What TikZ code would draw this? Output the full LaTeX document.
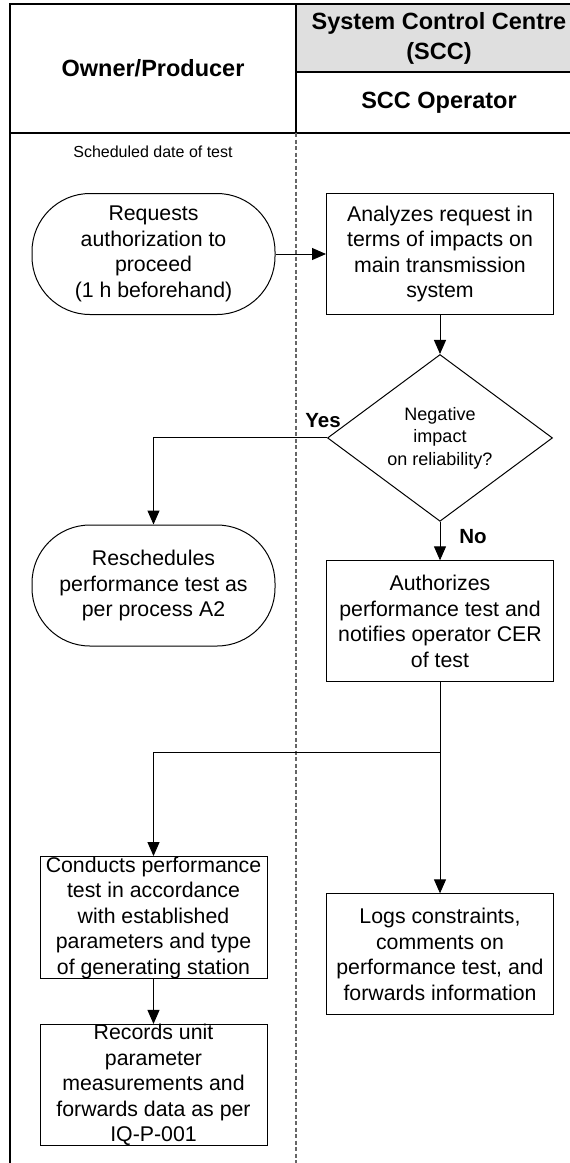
\documentclass[tikz,border=0pt]{standalone}
\usepackage{fontspec}
\setmainfont{Liberation Sans}
\usepackage{xcolor}
\usetikzlibrary{positioning, shapes.geometric, arrows.meta}

\begin{document}
\begin{tikzpicture}
						[
						   x = 1pt, y = 1pt,
						   box/.style = {draw, rectangle, line width = 1pt, minimum width = 227pt, minimum height = 121pt, inner xsep = 2pt, inner ysep = 0pt, align = center, font = \fontsize{21.3}{25.5}\selectfont},
						   terminal/.style = {box, minimum width = 243pt, rounded corners = 58pt},
						   decision/.style = {draw, diamond, line width = 1pt, minimum width = 225pt, minimum height = 134pt, inner sep = 0pt, align = center, font = \fontsize{18}{22.5}\selectfont},
						   head/.style = {font = \fontsize{23.5}{30}\selectfont\bfseries, align = center},
						   yesno/.style = {font = \fontsize{20.5}{24}\selectfont\bfseries},
						   lane/.style = {line width = 2pt},
						   lanesplit/.style = {black!60, line width = 1.2pt, dash pattern = on 4pt off 2.5pt},
						   flow/.style = {-{Triangle[length = 14pt, width = 12pt]}, line width = 1pt},
						]
						\useasboundingbox (0,0) rectangle (570,-1163);
						\clip (0,0) rectangle (570,-1163);
						\fill[gray!25] (296,-4) rectangle (582,-72);
						\draw[lane] (9.5,-1170) -- (9.5,-4) -- (582,-4);
						\draw[lane] (9.5,-133) -- (582,-133);
						\draw[lane] (296,-4) -- (296,-133);
						\draw[lane] (296,-72) -- (582,-72);
						\draw[lanesplit] (296,-133) -- (296,-1170);
						\node[head] (owner) at (153,-68.5) {Owner/Producer};
						\node[head] (scc) at (439,-38) {System Control Centre\\(SCC)};
						\node[head] (sccop) at (439,-102.5) {SCC Operator};
						\node[font = \fontsize{16}{19}\selectfont] (sched) at (153,-152) {Scheduled date of test};
						\node[terminal] (request) at (153.5,-254) {Requests\\authorization to\\proceed\\(1 h beforehand)};
						\node[box] (analyze) at (440,-254) {Analyzes request in\\terms of impacts on\\main transmission\\system};
						\node[decision, below = 39pt of analyze] (impact) {Negative\\impact\\on reliability?};
						\node[terminal] (reschedule) at (153.5,-585.5) {Reschedules\\performance test as\\per process A2};
						\node[box, below = 38.5pt of impact] (authorize) {Authorizes\\performance test and\\notifies operator CER\\of test};
						\node[box] (conduct) at (153.5,-917.5) {Conducts performance\\test in accordance\\with established\\parameters and type\\of generating station};
						\node[box, below = 45pt of conduct] (record) {Records unit\\parameter\\measurements and\\forwards data as per\\IQ-P-001};
						\node[box, below = 211pt of authorize] (log) {Logs constraints,\\comments on\\performance test, and\\forwards information};
						\coordinate (split) at (authorize.south |- 0,-752);
						\draw[flow] (request) -- (analyze);
						\draw[flow] (analyze) -- (impact);
						\draw[flow] (impact.west) -| (reschedule.north);
						\draw[flow] (impact) -- (authorize);
						\draw[flow] (authorize) -- (log);
						\draw[flow] (split) -| (conduct.north);
						\draw[flow] (conduct) -- (record);
						\node[yesno] (yes) at ([shift = {(-4,17)}]impact.west) {Yes};
						\node[yesno] (no) at ([shift = {(33,-15)}]impact.south) {No};
					\end{tikzpicture}
\end{document}
